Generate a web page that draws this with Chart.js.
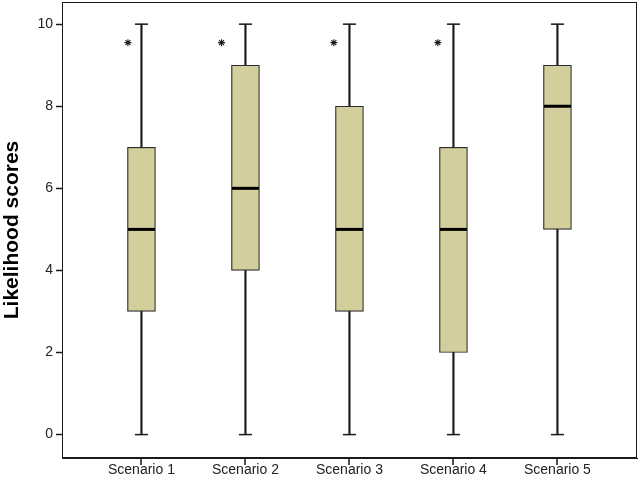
<!DOCTYPE html>
<html>
<head>
<meta charset="utf-8">
<script src="https://cdn.jsdelivr.net/npm/chart.js@4/dist/chart.umd.min.js"></script>
<style>
  html, body { margin: 0; padding: 0; background: #fff; overflow: hidden; }
  #wrap { width: 640px; height: 484px; }
</style>
</head>
<body>
<div id="wrap"><canvas id="boxChart"></canvas></div>
<script>
const scenarios = ["Scenario 1", "Scenario 2", "Scenario 3", "Scenario 4", "Scenario 5"];
const mins    = [0, 0, 0, 0, 0];
const q1s     = [3, 4, 3, 2, 5];
const medians = [5, 6, 5, 5, 8];
const q3s     = [7, 9, 8, 7, 9];
const maxs    = [10, 10, 10, 10, 10];
// asterisk markers (x position, y value)
const starX   = [0.87, 1.77, 2.85, 3.85];
const starY   = [9.55, 9.55, 9.55, 9.55];
const yTicks  = [0, 2, 4, 6, 8, 10];

const pos = scenarios.map((s, i) => i + 1);
const ink = "#1a1a1a";

// Frame around the plot area + tick marks under the x axis
const framePlugin = {
    id: "frame",
    afterDraw(chart) {
        const a = chart.chartArea;
        const ctx = chart.ctx;
        const xScale = chart.scales.x;
        ctx.save();
        ctx.strokeStyle = ink;
        ctx.lineWidth = 1;
        ctx.strokeRect(a.left + 0.5, a.top + 0.5, a.right - a.left - 1, a.bottom - a.top - 1);
        ctx.lineWidth = 1.5;
        ctx.beginPath();
        xScale.ticks.forEach(t => {
            const px = Math.round(xScale.getPixelForValue(t.value));
            ctx.moveTo(px, a.bottom - 1);
            ctx.lineTo(px, a.bottom + 7);
        });
        ctx.stroke();
        ctx.restore();
    }
};

const boxChart = document.getElementById("boxChart");

new Chart(boxChart, {

    type: "bar",

    data: {

        datasets: [

            {
                label: "median",
                type: "line",
                showLine: false,
                data: pos.map((x, i) => ({ x: x, y: medians[i] })),
                pointStyle: "line",
                pointRadius: 13.5,
                pointBorderWidth: 3,
                pointBorderColor: "#000",
                order: 1
            },

            {
                label: "caps",
                type: "line",
                showLine: false,
                data: pos.map((x, i) => ({ x: x, y: mins[i] })).concat(pos.map((x, i) => ({ x: x, y: maxs[i] }))),
                pointStyle: "line",
                pointRadius: 6.5,
                pointBorderWidth: 1.5,
                pointBorderColor: ink,
                order: 1
            },

            {
                label: "stars",
                type: "line",
                showLine: false,
                data: starX.map((x, i) => ({ x: x, y: starY[i] })),
                pointStyle: "star",
                pointRadius: 3.5,
                pointBorderWidth: 1.1,
                pointBorderColor: ink,
                order: 1
            },

            {
                label: "box",
                data: pos.map((x, i) => ({ x: x, y: [q1s[i], q3s[i]] })),
                backgroundColor: "#d3cf9c",
                borderColor: "#2b2b2b",
                borderWidth: 1.2,
                borderSkipped: false,
                barThickness: 28,
                grouped: false,
                order: 2
            },

            {
                label: "whisker",
                data: pos.map((x, i) => ({ x: x, y: [mins[i], maxs[i]] })),
                backgroundColor: ink,
                borderWidth: 0,
                barThickness: 1.5,
                grouped: false,
                order: 3
            }

        ]

    },

    options: {

        responsive: true,
        maintainAspectRatio: false,
        animation: false,

        layout: {
            autoPadding: false,
            padding: { top: 2, right: 3, left: 0, bottom: 0 }
        },

        plugins: {
            legend: { display: false },
            tooltip: { enabled: false }
        },

        scales: {

            x: {
                type: "linear",
                offset: false,
                min: 0.236,
                max: 5.765,
                afterBuildTicks: (scale) => {
                    scale.ticks = pos.map(v => ({ value: v }));
                },
                afterFit: (scale) => {
                    scale.height = 26;
                    scale.paddingLeft = 0;
                    scale.paddingRight = 0;
                },
                ticks: {
                    autoSkip: false,
                    maxRotation: 0,
                    padding: 0,
                    color: "#222",
                    font: { family: "Liberation Sans, Arial, sans-serif", size: 14 },
                    callback: (v) => scenarios[Math.round(v) - 1] || ""
                },
                grid: {
                    display: false,
                    offset: false,
                    tickLength: 4
                },
                border: { display: true, color: ink, width: 1 }
            },

            y: {
                min: -0.57,
                max: 10.54,
                afterBuildTicks: (scale) => {
                    scale.ticks = yTicks.map(v => ({ value: v }));
                },
                afterFit: (scale) => {
                    scale.width = 62;
                    scale.paddingTop = 0;
                    scale.paddingBottom = 0;
                },
                ticks: {
                    padding: 3,
                    color: "#222",
                    font: { family: "Liberation Sans, Arial, sans-serif", size: 14 }
                },
                grid: {
                    display: true,
                    drawOnChartArea: false,
                    drawTicks: true,
                    tickLength: 6,
                    tickColor: ink,
                    tickWidth: 1.5,
                    color: ink
                },
                border: { display: true, color: ink, width: 1 },
                title: {
                    display: true,
                    text: "Likelihood scores",
                    color: "#000",
                    padding: { top: 0, bottom: 3 },
                    font: { family: "Liberation Sans, Arial, sans-serif", size: 21, weight: "bold" }
                }
            }

        }

    },

    plugins: [framePlugin]

});
</script>
</body>
</html>
